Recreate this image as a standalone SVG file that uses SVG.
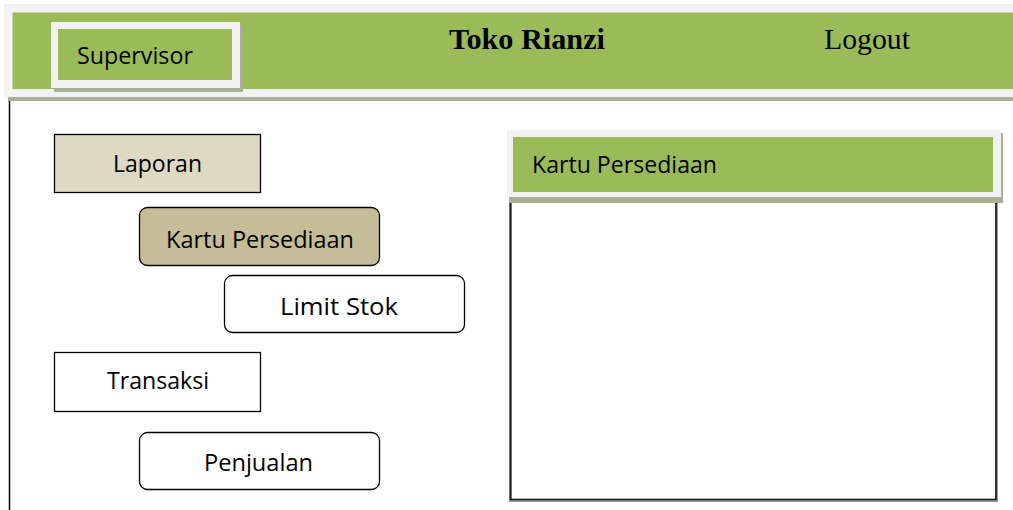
<svg xmlns="http://www.w3.org/2000/svg" width="1013" height="510" viewBox="0 0 1013 510">
<style>
.shadow{fill:#a8b096}
.frame{fill:#f2f2f2}
.green{fill:#9bbb59}
.btn{stroke:#000;stroke-width:1.3}
.t{font-family:"Open Sans","Noto Sans","Liberation Sans",sans-serif;font-size:23px;fill:#000}
.serif{font-family:"Liberation Serif","Times New Roman",serif;font-size:30px;fill:#000}
</style>
<rect width="1013" height="510" fill="#fff"/>
<g id="left-line"><line x1="9.5" y1="97" x2="9.5" y2="510" stroke="#000" stroke-width="1.5"/></g>
<g id="content-panel"><rect x="510.5" y="190" width="486" height="310.5" fill="#fff" stroke="#9a9a9a" stroke-width="3"/><rect x="510.5" y="190" width="485.5" height="309.5" fill="none" stroke="#1a1a1a" stroke-width="1.6"/></g>
<g id="header">
<rect class="shadow" x="8" y="8" width="1005" height="93"/>
<rect class="frame" x="4" y="4" width="1009" height="93"/>
<rect class="green" x="12.5" y="12.5" width="1000.5" height="76.5"/>
<text class="serif" x="449" y="49" font-weight="bold" textLength="156" lengthAdjust="spacingAndGlyphs">Toko Rianzi</text>
<text class="serif" x="824" y="49" textLength="86" lengthAdjust="spacingAndGlyphs">Logout</text>
</g>
<g id="supervisor">
<rect class="shadow" x="54" y="25" width="189" height="67"/>
<rect class="frame" x="51" y="22" width="189" height="66"/>
<rect class="green" x="58" y="29" width="174" height="51"/>
<text class="t" x="77" y="64" textLength="116" lengthAdjust="spacingAndGlyphs">Supervisor</text>
</g>
<g id="panel-header">
<rect class="shadow" x="509" y="133" width="494" height="70"/>
<rect class="frame" x="507" y="130" width="494" height="67"/>
<rect class="green" x="513" y="137" width="480" height="55"/>
<text class="t" x="532" y="173" textLength="185" lengthAdjust="spacingAndGlyphs">Kartu Persediaan</text>
</g>
<g id="laporan">
<rect class="btn" x="54.5" y="134.5" width="206" height="58" fill="#ddd9c3"/>
<text class="t" x="113" y="172" textLength="89" lengthAdjust="spacingAndGlyphs">Laporan</text>
</g>
<g id="kartu-persediaan">
<rect class="btn" x="139.5" y="207.5" width="240" height="58" rx="8" fill="#c4bd97"/>
<text class="t" x="166" y="248" textLength="188" lengthAdjust="spacingAndGlyphs">Kartu Persediaan</text>
</g>
<g id="limit-stok">
<rect class="btn" x="224.5" y="275.5" width="240" height="57" rx="8" fill="#fff"/>
<text class="t" x="280" y="315" textLength="118" lengthAdjust="spacingAndGlyphs">Limit Stok</text>
</g>
<g id="transaksi">
<rect class="btn" x="54.5" y="352.5" width="206" height="59" fill="#fff"/>
<text class="t" x="107" y="389" textLength="102" lengthAdjust="spacingAndGlyphs">Transaksi</text>
</g>
<g id="penjualan">
<rect class="btn" x="139.5" y="432.5" width="240" height="57" rx="8" fill="#fff"/>
<text class="t" x="204" y="471" textLength="109" lengthAdjust="spacingAndGlyphs">Penjualan</text>
</g>
<g id="connectors"/>
</svg>
